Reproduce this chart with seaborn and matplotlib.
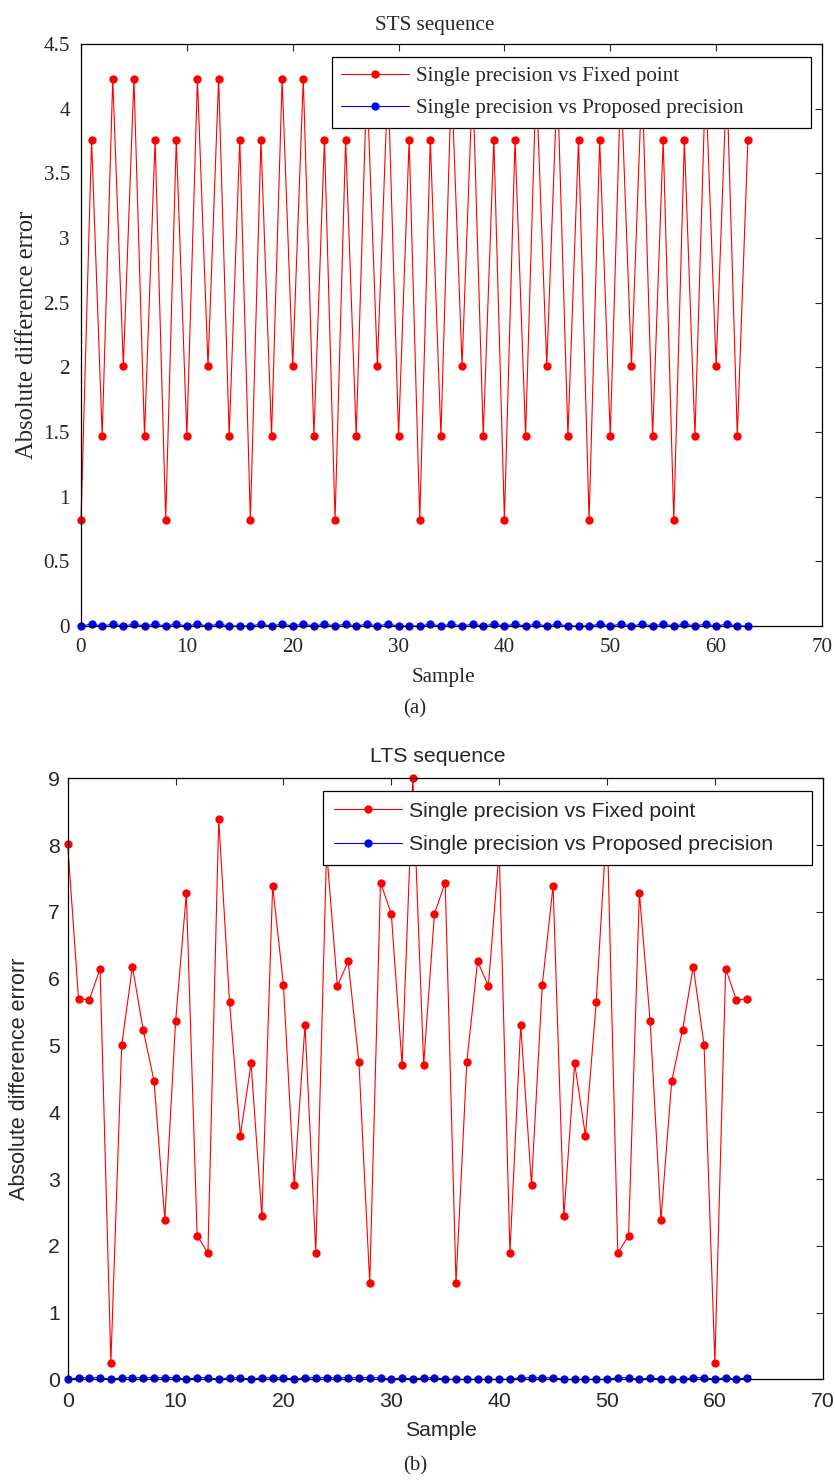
import numpy as np
import pandas as pd
import matplotlib
matplotlib.use("Agg")
import matplotlib.pyplot as plt
import seaborn as sns
from matplotlib.ticker import FuncFormatter, MultipleLocator


# sample index 0..63
samples = list(range(64))

sts_fixed = [0.82, 3.76, 1.47, 4.23, 2.01, 4.23, 1.47, 3.76,
             0.82, 3.76, 1.47, 4.23, 2.01, 4.23, 1.47, 3.76,
             0.82, 3.76, 1.47, 4.23, 2.01, 4.23, 1.47, 3.76,
             0.82, 3.76, 1.47, 4.23, 2.01, 4.23, 1.47, 3.76,
             0.82, 3.76, 1.47, 4.23, 2.01, 4.23, 1.47, 3.76,
             0.82, 3.76, 1.47, 4.23, 2.01, 4.23, 1.47, 3.76,
             0.82, 3.76, 1.47, 4.23, 2.01, 4.23, 1.47, 3.76,
             0.82, 3.76, 1.47, 4.23, 2.01, 4.23, 1.47, 3.76]

sts_proposed = [0.0, 0.015, 0.0, 0.015, 0.0, 0.015, 0.0, 0.015,
                0.0, 0.015, 0.0, 0.015, 0.0, 0.015, 0.0, 0.0,
                0.0, 0.015, 0.0, 0.015, 0.0, 0.015, 0.0, 0.015,
                0.0, 0.015, 0.0, 0.015, 0.0, 0.015, 0.0, 0.0,
                0.0, 0.015, 0.0, 0.015, 0.0, 0.015, 0.0, 0.015,
                0.0, 0.015, 0.0, 0.015, 0.0, 0.015, 0.0, 0.0,
                0.0, 0.015, 0.0, 0.015, 0.0, 0.015, 0.0, 0.015,
                0.0, 0.015, 0.0, 0.015, 0.0, 0.015, 0.0, 0.0]

lts_fixed = [8.01, 5.70, 5.68, 6.15, 0.25, 5.00, 6.18, 5.23,
             4.47, 2.39, 5.36, 7.28, 2.15, 1.89, 8.39, 5.65,
             3.65, 4.73, 2.44, 7.39, 5.91, 2.91, 5.31, 1.89,
             7.92, 5.89, 6.26, 4.75, 1.44, 7.44, 6.97, 4.71,
             9.00, 4.71, 6.97, 7.44, 1.44, 4.75, 6.26, 5.89,
             7.92, 1.89, 5.31, 2.91, 5.91, 7.39, 2.44, 4.73,
             3.65, 5.65, 8.39, 1.89, 2.15, 7.28, 5.36, 2.39,
             4.47, 5.23, 6.18, 5.00, 0.25, 6.15, 5.68, 5.70]

lts_proposed = [0.0, 0.025, 0.025, 0.025, 0.0, 0.025, 0.025, 0.025,
                0.025, 0.025, 0.025, 0.0, 0.025, 0.025, 0.0, 0.025,
                0.025, 0.0, 0.025, 0.025, 0.025, 0.0, 0.025, 0.025,
                0.025, 0.025, 0.025, 0.025, 0.025, 0.025, 0.0, 0.025,
                0.0, 0.025, 0.025, 0.0, 0.0, 0.0, 0.0, 0.0,
                0.0, 0.0, 0.025, 0.025, 0.025, 0.025, 0.0, 0.0,
                0.0, 0.0, 0.0, 0.025, 0.025, 0.0, 0.025, 0.0,
                0.0, 0.0, 0.025, 0.025, 0.0, 0.025, 0.0, 0.025]

label_fixed = "Single precision vs Fixed point"
label_prop = "Single precision vs Proposed precision"

sns.set_style("white")

SERIF = ["Liberation Serif", "DejaVu Serif"]
SANS = ["Liberation Sans", "DejaVu Sans"]


def draw_panel(ax, fixed, proposed, title, ylabel, ymax, ystep, family, fs, ylab_fs,
               xpad, ypad, title_pad, title_x, xlab_pad, xlab_x, ylab_x,
               leg_box, leg_pad, leg_space):
	sns.lineplot(x=samples, y=fixed, ax=ax, color="#ff0000", lw=0.8, marker="o",
	             markersize=6, markeredgewidth=0, label=label_fixed, clip_on=False)
	sns.lineplot(x=samples, y=proposed, ax=ax, color="#0000ff", lw=0.8, marker="o",
	             markersize=6, markeredgewidth=0, label=label_prop, clip_on=False)

	ax.set_xlim(0, 70)
	ax.set_ylim(0, ymax)
	ax.xaxis.set_major_locator(MultipleLocator(10))
	ax.yaxis.set_major_locator(MultipleLocator(ystep))
	ax.yaxis.set_major_formatter(FuncFormatter(lambda v, p: f"{v:g}"))

	ax.tick_params(direction="in", top=True, right=True, length=5, width=0.8,
	               labelsize=fs)
	ax.tick_params(axis="x", pad=xpad)
	ax.tick_params(axis="y", pad=ypad)
	for lab in ax.get_xticklabels() + ax.get_yticklabels():
		lab.set_family(family)
	for sp in ax.spines.values():
		sp.set_visible(True)
		sp.set_color("black")
		sp.set_linewidth(0.9)

	ax.set_title(title, family=family, fontsize=fs, pad=title_pad, x=title_x)
	ax.set_xlabel("Sample", family=family, fontsize=fs, labelpad=xlab_pad)
	ax.xaxis.label.set_x(xlab_x)
	ax.set_ylabel(ylabel, family=family, fontsize=ylab_fs)
	ax.yaxis.set_label_coords(ylab_x, 0.5)

	# MATLAB-like legend box: fixed width, text left aligned
	leg = ax.legend(loc="upper left", bbox_to_anchor=leg_box, mode="expand",
	                borderaxespad=0, prop={"family": family, "size": fs},
	                fancybox=False, framealpha=1, edgecolor="black",
	                handlelength=3.2, handletextpad=0.33, borderpad=leg_pad,
	                labelspacing=leg_space)
	leg.get_frame().set_linewidth(0.9)
	leg.set_zorder(10)


fig = plt.figure(figsize=(8.35, 14.8), dpi=100)
ax1 = fig.add_axes([0.097, 0.577, 0.8874, 0.3933])
ax2 = fig.add_axes([0.0811, 0.068, 0.9042, 0.4061])

draw_panel(ax1, sts_fixed, sts_proposed, "STS sequence", "Absolute difference error",
           4.5, 0.5, SERIF, 15.2, 17.7, 8.4, 8, 9.7, 0.478, 8, 0.4885, -0.058,
           (0.3383, 0.0, 0.6468, 0.978), 0.45, 0.58)
draw_panel(ax2, lts_fixed, lts_proposed, "LTS sequence", "Absolute difference errorr",
           9, 1, SANS, 15.3, 15.5, 9, 5.5, 11.4, 0.490, 7, 0.4944, -0.05,
           (0.3385, 0.0, 0.6477, 0.979), 0.5, 0.7)

fig.text(0.497, 1 - 709 / 1480, "(a)", ha="center", va="center", family=SERIF, fontsize=15)
fig.text(0.497, 1 - 1466 / 1480, "(b)", ha="center", va="center", family=SERIF, fontsize=15)

fig.savefig("out.png", dpi=100)
